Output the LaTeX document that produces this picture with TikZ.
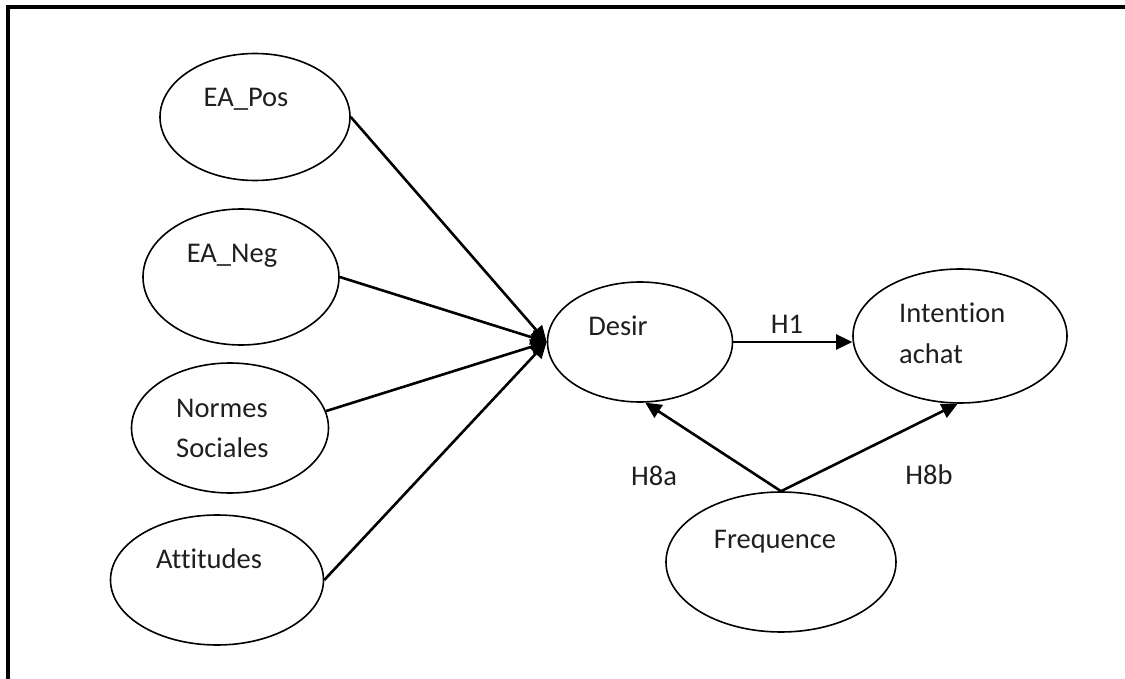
\documentclass[tikz,border=0pt]{standalone}
\usepackage{fontspec}
\setmainfont{Carlito}[Ligatures=NoCommon]
\usetikzlibrary{shapes.geometric,arrows.meta}
\begin{document}
\begin{tikzpicture}[x=1pt,y=-1pt,
  oval/.style={draw,ellipse,line width=1.6pt,inner sep=0pt},
  lbl/.style={inner sep=0pt,font=\fontsize{28.5}{40}\selectfont,text=black!88},
  conn/.style={line width=2.6pt,-{Triangle[length=16pt,width=15pt]}},
  frame/.style={line width=3.2pt}]
\useasboundingbox (0,0) rectangle (1125,679);
\coordinate (fbl) at (8,679);
\coordinate (ftl) at (8,7);
\coordinate (ftr) at (1125,7);
\draw[frame] (fbl) -- (ftl) -- (ftr);
% ellipses
\node[oval,minimum width=190pt,minimum height=127pt] (pos) at (255,117) {};
\node[oval,minimum width=196pt,minimum height=136pt] (neg) at (241,277) {};
\node[oval,minimum width=197pt,minimum height=130pt] (nor) at (230,428) {};
\node[oval,minimum width=213pt,minimum height=130pt] (att) at (217,580) {};
\node[oval,minimum width=185pt,minimum height=120pt] (des) at (640,342) {};
\node[oval,minimum width=214pt,minimum height=134pt] (int) at (960,336) {};
\node[oval,minimum width=230pt,minimum height=140pt] (fre) at (781,562) {};
% texts
\node[lbl,anchor=base] (posT) at (246,107) {EA\_Pos};
\node[lbl,anchor=base] (negT) at (232,263) {EA\_Neg};
\node[lbl,anchor=base west] (norT1) at (176,417) {Normes};
\node[lbl,anchor=base west] (norT2) at (176,457) {Sociales};
\node[lbl,anchor=base] (attT) at (209,568) {Attitudes};
\node[lbl,anchor=base] (desT) at (618,335) {Desir};
\node[lbl,anchor=base west] (intT1) at (899,323) {Intention};
\node[lbl,anchor=base west] (intT2) at (899,363) {achat};
\node[lbl,anchor=base] (freT) at (775,548) {Frequence};
\node[lbl,anchor=base] (h1) at (787,333) {H1};
\node[lbl,anchor=base] (h8a) at (654,485) {H8a};
\node[lbl,anchor=base] (h8b) at (929,484) {H8b};
% connectors
\draw[conn] (pos.east) -- (des.west);
\draw[conn] (neg.east) -- (des.west);
\draw[conn] (nor.10) -- (des.west);
\draw[conn] (att.east) -- (des.west);
\draw[conn] (des.east) -- (des.east -| int.west);
\draw[conn] (fre.north) -- (des.-85);
\draw[conn] (fre.north) -- (int.-92);
\end{tikzpicture}
\end{document}
